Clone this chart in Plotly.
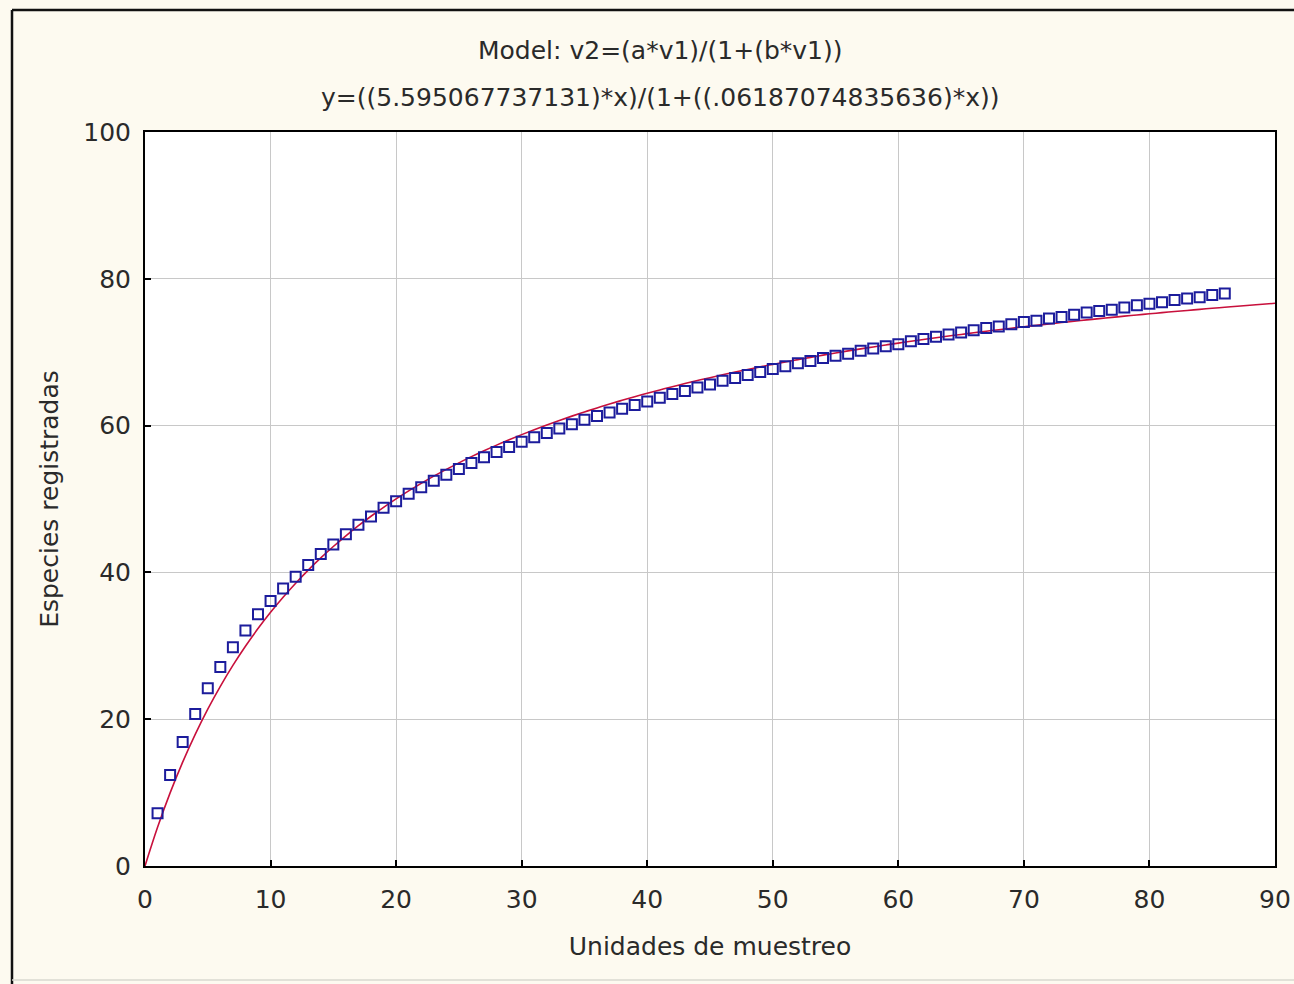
import plotly.graph_objects as go

# Observed data: sampling units vs. registered species
units = list(range(1, 87))
species = [
    7.2, 12.4, 16.9, 20.7, 24.2, 27.1, 29.8, 32.1, 34.3, 36.1,
    37.8, 39.4, 41.0, 42.5, 43.8, 45.2, 46.5, 47.6, 48.8, 49.7,
    50.7, 51.6, 52.5, 53.3, 54.1, 54.9, 55.7, 56.4, 57.1, 57.8,
    58.4, 59.0, 59.6, 60.2, 60.8, 61.3, 61.8, 62.3, 62.8, 63.3,
    63.8, 64.3, 64.7, 65.2, 65.6, 66.1, 66.5, 66.9, 67.3, 67.7,
    68.1, 68.5, 68.8, 69.2, 69.5, 69.8, 70.2, 70.5, 70.8, 71.1,
    71.5, 71.8, 72.1, 72.4, 72.7, 73.0, 73.3, 73.5, 73.8, 74.1,
    74.3, 74.6, 74.8, 75.1, 75.4, 75.6, 75.8, 76.1, 76.4, 76.6,
    76.8, 77.1, 77.3, 77.5, 77.8, 78.0,
]

# Fitted curve (values of the model shown in the title)
fit_x = list(range(0, 91))
fit_y = [
    0.00, 5.27, 9.96, 14.16, 17.94, 21.37, 24.48, 27.33, 29.94, 32.35,
    34.57, 36.62, 38.53, 40.31, 41.97, 43.53, 44.99, 46.36, 47.65, 48.86,
    50.01, 51.10, 52.13, 53.11, 54.04, 54.92, 55.77, 56.57, 57.34, 58.07,
    58.77, 59.44, 60.08, 60.70, 61.29, 61.86, 62.41, 62.94, 63.45, 63.94,
    64.41, 64.86, 65.30, 65.73, 66.14, 66.53, 66.92, 67.29, 67.65, 68.00,
    68.34, 68.67, 68.99, 69.30, 69.60, 69.89, 70.18, 70.45, 70.72, 70.99,
    71.24, 71.49, 71.73, 71.97, 72.20, 72.42, 72.64, 72.86, 73.07, 73.27,
    73.47, 73.66, 73.85, 74.04, 74.22, 74.40, 74.57, 74.74, 74.91, 75.07,
    75.23, 75.39, 75.54, 75.69, 75.84, 75.98, 76.13, 76.26, 76.40, 76.53,
    76.66,
]

x_ticks = [0, 10, 20, 30, 40, 50, 60, 70, 80, 90]
y_ticks = [0, 20, 40, 60, 80, 100]

title_line1 = "Model: v2=(a*v1)/(1+(b*v1))"
title_line2 = "y=((5.595067737131)*x)/(1+((.06187074835636)*x))"
x_title = "Unidades de muestreo"
y_title = "Especies registradas"

FONT = "DejaVu Sans, Verdana, sans-serif"
TXT = "#2a2a2a"
FS = 25
W, H = 1294, 984
ML, MR, MT, MB = 145, 19, 132, 118

fig = go.Figure()
fig.add_trace(go.Scatter(
    x=fit_x, y=fit_y, mode="lines",
    line=dict(color="#c8103c", width=1.6, shape="spline"),
    showlegend=False, hoverinfo="skip",
))
fig.add_trace(go.Scatter(
    x=units, y=species, mode="markers",
    marker=dict(symbol="square-open", size=10, color="#1c1c9c",
                line=dict(width=2, color="#1c1c9c")),
    showlegend=False,
))

fig.update_layout(
    width=W, height=H, autosize=False,
    paper_bgcolor="#fdfaf0",
    plot_bgcolor="#ffffff",
    margin=dict(l=ML, r=MR, t=MT, b=MB, autoexpand=False),
    font=dict(family=FONT, size=FS, color=TXT),
    showlegend=False,
)
fig.update_xaxes(
    range=[0, 90], tickvals=x_ticks, ticktext=[str(v) for v in x_ticks],
    showgrid=True, gridcolor="#c8c8c8", gridwidth=1,
    showline=True, linecolor="#000000", linewidth=2, mirror=True,
    ticks="inside", ticklen=6, tickcolor="#000000", tickwidth=2,
    ticklabelstandoff=10, zeroline=False, automargin=False,
    title=dict(text=x_title, font=dict(size=FS, family=FONT, color=TXT), standoff=24),
)
fig.update_yaxes(
    range=[0, 100], tickvals=y_ticks, ticktext=[str(v) for v in y_ticks],
    showgrid=True, gridcolor="#c8c8c8", gridwidth=1,
    showline=True, linecolor="#000000", linewidth=2, mirror=True,
    ticks="inside", ticklen=6, tickcolor="#000000", tickwidth=2,
    ticklabelstandoff=7, zeroline=False, automargin=False,
    title=dict(text=y_title, font=dict(size=FS, family=FONT, color=TXT), standoff=18),
)

PW = W - ML - MR
PH = H - MT - MB

def px2paper_x(px):
    return (px - ML) / PW

def px2paper_y(py):
    return (H - MB - py) / PH

fig.add_annotation(text=title_line1, xref="paper", yref="paper",
                   x=px2paper_x(660), y=px2paper_y(50),
                   xanchor="center", yanchor="middle", showarrow=False,
                   font=dict(size=FS, family=FONT, color=TXT))
fig.add_annotation(text=title_line2, xref="paper", yref="paper",
                   x=px2paper_x(660), y=px2paper_y(97),
                   xanchor="center", yanchor="middle", showarrow=False,
                   font=dict(size=FS, family=FONT, color=TXT))

# Outer frame (black on left/top, light at bottom)
fig.add_shape(type="line", xref="paper", yref="paper",
              x0=px2paper_x(12), x1=px2paper_x(1294), y0=px2paper_y(10), y1=px2paper_y(10),
              line=dict(color="#111111", width=2.5))
fig.add_shape(type="line", xref="paper", yref="paper",
              x0=px2paper_x(12), x1=px2paper_x(12), y0=px2paper_y(10), y1=px2paper_y(984),
              line=dict(color="#111111", width=2.5))
fig.add_shape(type="line", xref="paper", yref="paper",
              x0=px2paper_x(12), x1=px2paper_x(1294), y0=px2paper_y(980), y1=px2paper_y(980),
              line=dict(color="#d8d8d0", width=1.5))

fig.write_html(
    "out.html",
    config={"displayModeBar": False, "responsive": False},
    post_script="document.body.style.margin='0';document.body.style.padding='0';document.body.style.overflow='hidden';",
)
